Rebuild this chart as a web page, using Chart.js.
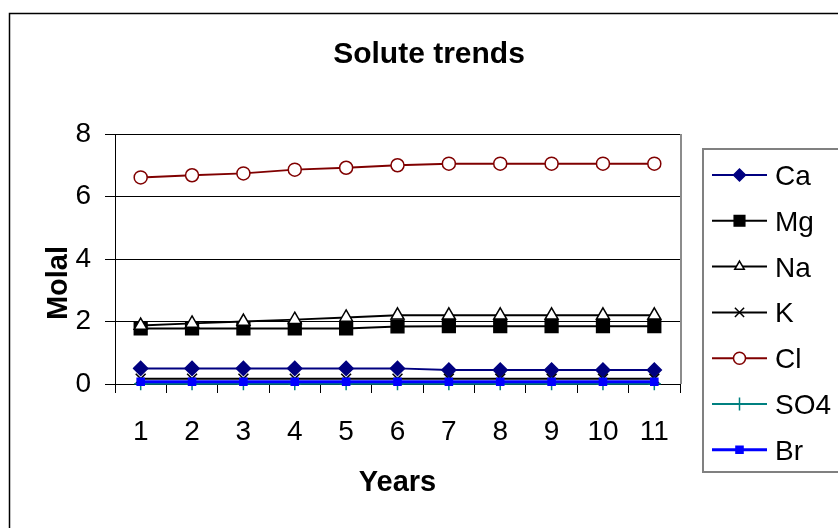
<!DOCTYPE html>
<html>
<head>
<meta charset="utf-8">
<script src="https://cdn.jsdelivr.net/npm/chart.js@4.4.1/dist/chart.umd.min.js"></script>
<style>
    html, body { margin: 0; padding: 0; background: #fff; }
    #wrap { width: 838px; height: 528px; }
</style>
</head>
<body>
<div id="wrap"><canvas id="soluteChart" width="838" height="528"></canvas></div>
<script>
// Chart values
var years = ['1', '2', '3', '4', '5', '6', '7', '8', '9', '10', '11'];
var caValues = [0.5, 0.5, 0.5, 0.5, 0.5, 0.5, 0.45, 0.45, 0.45, 0.45, 0.45];
var mgValues = [1.78, 1.78, 1.78, 1.78, 1.78, 1.84, 1.85, 1.85, 1.85, 1.85, 1.85];
var naValues = [1.87, 1.94, 2.0, 2.06, 2.13, 2.2, 2.2, 2.2, 2.2, 2.2, 2.2];
var kValues = [0.17, 0.17, 0.17, 0.17, 0.17, 0.17, 0.17, 0.17, 0.17, 0.17, 0.17];
var clValues = [6.61, 6.68, 6.74, 6.86, 6.92, 7.0, 7.05, 7.05, 7.05, 7.05, 7.05];
var so4Values = [0.01, 0.01, 0.01, 0.01, 0.01, 0.01, 0.01, 0.01, 0.01, 0.01, 0.01];
var brValues = [0.07, 0.07, 0.07, 0.07, 0.07, 0.07, 0.07, 0.07, 0.07, 0.07, 0.07];
var yTicks = [0, 2, 4, 6, 8];

var FONT = '"Liberation Sans", Arial, sans-serif';

Chart.defaults.color = '#000';
Chart.defaults.font.family = FONT;

// One line series, styled like the old Excel markers
function makeSeries(label, data, color, style, radius, fill, order, legendRadius) {
    return {
        label: label,
        data: data,
        borderColor: color,
        backgroundColor: color,
        borderWidth: 2,
        pointStyle: style,
        pointRadius: radius,
        pointHoverRadius: radius,
        pointBackgroundColor: fill,
        pointBorderColor: color,
        pointBorderWidth: 1.5,
        tension: 0,
        clip: false,
        order: order,
        legendRadius: legendRadius
    };
}

var datasets = [
    makeSeries('Ca', caValues, '#000080', 'rectRot', 7, '#000080', 7, 6),
    makeSeries('Mg', mgValues, '#000000', 'rect', 9, '#000000', 6, 7.5),
    makeSeries('Na', naValues, '#000000', 'triangle', 7.5, '#ffffff', 5, 5.5),
    makeSeries('K', kValues, '#000000', 'crossRot', 7, '#000000', 4, 6.5),
    makeSeries('Cl', clValues, '#800000', 'circle', 6.5, '#ffffff', 3, 6),
    makeSeries('SO4', so4Values, '#008080', 'cross', 6.5, '#008080', 2, 6.5),
    makeSeries('Br', brValues, '#0000ff', 'rect', 5, '#0000ff', 1, 5)
];
datasets[6].borderWidth = 3;

// Frame, titles and the boxed legend on the right
var decorations = {
    id: 'decorations',
    beforeDraw: function (chart) {
        var ctx = chart.ctx;
        ctx.save();
        ctx.fillStyle = '#fff';
        ctx.fillRect(0, 0, chart.width, chart.height);
        ctx.restore();
    },
    afterDraw: function (chart) {
        var ctx = chart.ctx;
        var area = chart.chartArea;
        ctx.save();

        // outer chart border
        ctx.strokeStyle = '#000';
        ctx.lineWidth = 1.5;
        ctx.strokeRect(9.5, 13.5, 900, 600);

        // plot area right border
        ctx.strokeStyle = '#8c8c8c';
        ctx.lineWidth = 2;
        ctx.beginPath();
        ctx.moveTo(area.right + 1, area.top);
        ctx.lineTo(area.right + 1, area.bottom);
        ctx.stroke();

        // title
        ctx.fillStyle = '#000';
        ctx.textAlign = 'center';
        ctx.textBaseline = 'alphabetic';
        ctx.font = 'bold 30px ' + FONT;
        ctx.fillText('Solute trends', 429, 63);

        // axis titles
        ctx.font = 'bold 29px ' + FONT;
        ctx.fillText('Years', (area.left + area.right) / 2, 491);
        ctx.save();
        ctx.translate(67, 283);
        ctx.rotate(-Math.PI / 2);
        ctx.fillText('Molal', 0, 0);
        ctx.restore();

        // legend box
        ctx.strokeStyle = '#808080';
        ctx.lineWidth = 2;
        ctx.strokeRect(703, 149, 160, 323);

        var rowY = 175;
        var gap = 45.8;
        chart.data.datasets.forEach(function (ds, i) {
            var y = rowY + i * gap;
            ctx.strokeStyle = ds.borderColor;
            ctx.lineWidth = ds.borderWidth;
            ctx.beginPath();
            ctx.moveTo(712, y);
            ctx.lineTo(767, y);
            ctx.stroke();

            ctx.fillStyle = ds.pointBackgroundColor;
            ctx.strokeStyle = ds.pointBorderColor;
            ctx.lineWidth = ds.pointBorderWidth;
            Chart.helpers.drawPoint(ctx, {
                pointStyle: ds.pointStyle,
                radius: ds.legendRadius,
                rotation: 0,
                borderWidth: ds.pointBorderWidth
            }, 739.5, y);

            ctx.fillStyle = '#000';
            ctx.textAlign = 'left';
            ctx.font = '28px ' + FONT;
            ctx.fillText(ds.label, 775, y + 10);
        });

        ctx.restore();
    }
};

var chart = new Chart(document.getElementById('soluteChart'), {
    type: 'line',
    data: {
        labels: years,
        datasets: datasets
    },
    options: {
        responsive: false,
        animation: false,
        layout: {
            padding: { top: 134, right: 158, bottom: 0, left: 0 }
        },
        plugins: {
            legend: { display: false },
            title: { display: false },
            tooltip: { enabled: false }
        },
        scales: {
            x: {
                type: 'category',
                offset: true,
                afterFit: function (scale) { scale.height = 144; },
                grid: {
                    offset: true,
                    drawOnChartArea: false,
                    drawTicks: true,
                    tickLength: 9,
                    color: '#000'
                },
                border: { display: true, color: '#000', width: 1 },
                ticks: {
                    font: { size: 28 },
                    padding: 22,
                    maxRotation: 0,
                    autoSkip: false
                }
            },
            y: {
                min: 0,
                max: 8,
                afterFit: function (scale) { scale.width = 115; },
                afterBuildTicks: function (scale) {
                    scale.ticks = yTicks.map(function (v) { return { value: v }; });
                },
                grid: {
                    color: '#000',
                    lineWidth: 1,
                    tickLength: 10,
                    drawTicks: true
                },
                border: { display: true, color: '#000', width: 1 },
                ticks: {
                    font: { size: 28 },
                    padding: 14
                }
            }
        }
    },
    plugins: [decorations]
});
</script>
</body>
</html>
